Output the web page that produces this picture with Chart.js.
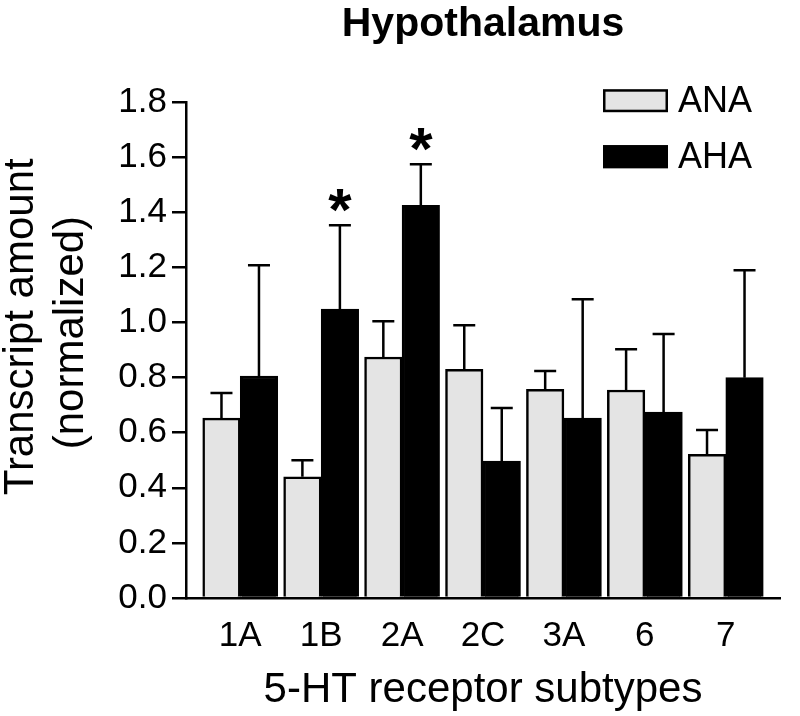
<!DOCTYPE html>
<html><head><meta charset="utf-8">
<script src="https://cdn.jsdelivr.net/npm/chart.js@4.4.1/dist/chart.umd.min.js"></script>
<style>html,body{margin:0;padding:0;background:#fff}</style>
</head><body>
<canvas id="c" width="800" height="716"></canvas>
<script>
// ---- data ----
const categories = ['1A', '1B', '2A', '2C', '3A', '6', '7'];
const anaMean = [0.653, 0.440, 0.875, 0.830, 0.758, 0.755, 0.522];
const anaSem  = [0.091, 0.060, 0.130, 0.160, 0.066, 0.148, 0.088];
const ahaMean = [0.806, 1.049, 1.426, 0.497, 0.653, 0.675, 0.800];
const ahaSem  = [0.402, 0.304, 0.149, 0.193, 0.432, 0.283, 0.390];
const ahaSig  = ['', '*', '*', '', '', '', ''];
const anaSig  = ['', '', '', '', '', '', ''];
const yTickLabels = ['0.0', '0.2', '0.4', '0.6', '0.8', '1.0', '1.2', '1.4', '1.6', '1.8'];

const FONT = "'Liberation Sans', Arial, Helvetica, sans-serif";
Chart.defaults.font.family = FONT;
Chart.defaults.color = '#000';

const toPoints = arr => arr.map((v, i) => ({ x: i, y: v }));

const errorBars = {
  id: 'errorBars',
  afterDatasetsDraw(chart) {
    const ctx = chart.ctx;
    const yScale = chart.scales.y;
    ctx.save();
    chart.data.datasets.forEach((ds, di) => {
      const meta = chart.getDatasetMeta(di);
      meta.data.forEach((bar, j) => {
        const v = ds.data[j].y;
        const top = yScale.getPixelForValue(v + ds.errors[j]);
        ctx.strokeStyle = '#000';
        ctx.lineWidth = 2.5;
        ctx.beginPath();
        ctx.moveTo(bar.x, bar.y);
        ctx.lineTo(bar.x, top);
        ctx.moveTo(bar.x - 11, top);
        ctx.lineTo(bar.x + 11, top);
        ctx.stroke();
        const mark = ds.marks[j];
        if (mark) {
          const fs = 60;
          ctx.font = 'bold ' + fs + 'px ' + FONT;
          ctx.fillStyle = '#000';
          ctx.textAlign = 'center';
          ctx.textBaseline = 'alphabetic';
          ctx.fillText(mark, bar.x, top - 28 + 0.55 * fs);
        }
      });
    });
    ctx.restore();
  }
};

const boxLegend = {
  id: 'boxLegend',
  afterDraw(chart) {
    const ctx = chart.ctx;
    const ca = chart.chartArea;
    ctx.save();
    chart.data.datasets.forEach((ds, i) => {
      const bx = ca.right - 177;
      const by = ca.top - 13 + i * 56;
      ctx.fillStyle = ds.backgroundColor;
      ctx.fillRect(bx, by, 65, 23);
      ctx.strokeStyle = '#000';
      ctx.lineWidth = 2.5;
      ctx.strokeRect(bx + 1.25, by + 1.25, 62.5, 20.5);
      ctx.font = '36px ' + FONT;
      ctx.fillStyle = '#000';
      ctx.textAlign = 'left';
      ctx.textBaseline = 'middle';
      ctx.fillText(ds.label, bx + 75, by + 13);
    });
    ctx.restore();
  }
};

new Chart(document.getElementById('c'), {
  type: 'bar',
  data: {
    datasets: [
      { label: 'ANA', data: toPoints(anaMean), errors: anaSem, marks: anaSig,
        backgroundColor: '#e4e4e4', borderColor: '#000', borderWidth: 2.5, barThickness: 37.5 },
      { label: 'AHA', data: toPoints(ahaMean), errors: ahaSem, marks: ahaSig,
        backgroundColor: '#000', borderColor: '#000', borderWidth: 2.5, barThickness: 37.5 }
    ]
  },
  options: {
    responsive: false,
    animation: false,
    devicePixelRatio: 1,
    layout: { padding: { left: 0, right: 20, top: 0, bottom: 0 } },
    plugins: {
      legend: { display: false },
      tooltip: { enabled: false },
      title: {
        display: true, text: 'Hypothalamus', fullSize: false, color: '#000',
        font: { size: 41, weight: 'bold', lineHeight: 1.2 },
        padding: { top: 0, bottom: 53 }
      }
    },
    scales: {
      x: {
        type: 'linear', min: -0.67, max: 6.67, offset: false,
        afterBuildTicks: s => { s.ticks = categories.map((c, i) => ({ value: i })); },
        afterFit: s => { s.height = 118; },
        ticks: { callback: v => categories[v], font: { size: 35 }, padding: 17, color: '#000', autoSkip: false, maxRotation: 0 },
        grid: { display: false, drawTicks: false },
        border: { display: true, color: '#000', width: 2.5 },
        title: { display: true, text: '5-HT receptor subtypes', color: '#000',
          font: { size: 42, lineHeight: 1.2 }, padding: { top: 8, bottom: 0 } }
      },
      y: {
        min: 0, max: 1.8,
        afterBuildTicks: s => { s.ticks = yTickLabels.map(t => ({ value: parseFloat(t) })); },
        afterFit: s => { s.width = 186; },
        ticks: { callback: (v, i) => yTickLabels[i], font: { size: 35 }, padding: 5, color: '#000' },
        grid: { drawOnChartArea: false, drawTicks: true, tickLength: 14, color: '#000', lineWidth: 2.5 },
        border: { display: true, color: '#000', width: 2.5 },
        title: { display: true, text: ['    Transcript amount', '   (normalized)'], color: '#000',
          font: { size: 42, lineHeight: 1.2 }, padding: { top: -4, bottom: 0 } }
      }
    }
  },
  plugins: [errorBars, boxLegend]
});
</script>
</body></html>
